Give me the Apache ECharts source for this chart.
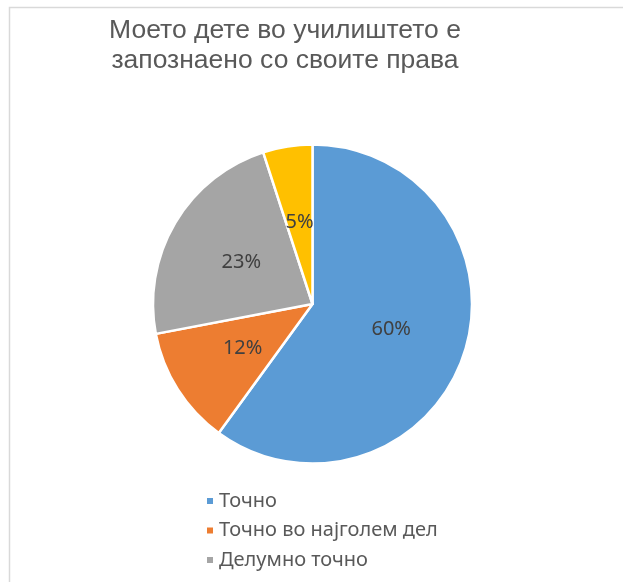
<!DOCTYPE html>
<html>
<head>
<meta charset="utf-8">
<script src="https://cdn.jsdelivr.net/npm/echarts@6/dist/echarts.min.js"></script>
<style>
  html, body { margin: 0; padding: 0; background: #fff; }
  #chart { width: 623px; height: 582px; }
</style>
</head>
<body>
<div id="chart"></div>
<script>
// податоци
const titleLines = ['Моето дете во училиштето е', 'запознаено со своите права']
const categories = ['Точно', 'Точно во најголем дел', 'Делумно точно', 'Неточно']
const values = [60, 12, 23, 5]
const colors = ['#5b9bd5', '#ed7d31', '#a5a5a5', '#ffc000']
// легендата е отсечена на дното, се гледаат само првите три
const legendShown = categories.slice(0, 3)

const chart = echarts.init(document.getElementById('chart'))

chart.setOption({
  backgroundColor: '#fff',
  animation: false,
  graphic: [
    // рамка
    {
      type: 'rect',
      shape: { x: 9.5, y: 7.5, width: 700, height: 700 },
      style: { fill: 'none', stroke: '#d9d9d9', lineWidth: 1.5 },
      silent: true
    },
    {
      type: 'text',
      x: 285,
      y: 46,
      style: {
        text: titleLines.join('\n'),
        fill: '#595959',
        fontFamily: 'Liberation Sans, Arial',
        fontSize: 26.5,
        lineHeight: 30,
        align: 'center',
        verticalAlign: 'middle'
      }
    }
  ],
  legend: {
    orient: 'vertical',
    left: 200,
    top: 486,
    height: 300,
    itemWidth: 8,
    itemHeight: 8,
    itemGap: 9.5,
    icon: 'rect',
    textStyle: { color: '#595959', fontSize: 20, lineHeight: 20, fontFamily: 'Noto Sans, Open Sans, sans-serif' },
    data: legendShown
  },
  series: [{
    type: 'pie',
    center: [312.5, 304],
    radius: [0, 159.5],
    startAngle: 90,
    clockwise: true,
    label: {
      show: true,
      position: 'inside',
      formatter: '{c}%',
      color: '#404040',
      fontSize: 20,
      fontFamily: 'Noto Sans, Open Sans, sans-serif'
    },
    labelLine: { show: false },
    itemStyle: { borderColor: '#fff', borderWidth: 2.5 },
    emphasis: { disabled: true },
    data: categories.map((name, i) => ({
      name,
      value: values[i],
      itemStyle: { color: colors[i] }
    }))
  }]
})
</script>
</body>
</html>
